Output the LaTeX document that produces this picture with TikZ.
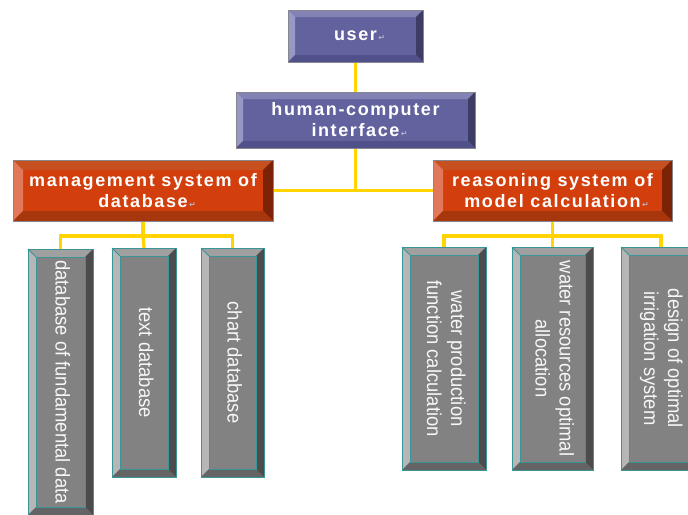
\documentclass[tikz,border=0pt]{standalone}
\usepackage{fontspec}
\usepackage{graphicx}
\setmainfont{Liberation Sans}
\newfontfamily\hfont{Liberation Sans}[LetterSpace=9]
\newfontfamily\vfont{Liberation Sans}[FakeStretch=0.92]
\newfontfamily\symfont{DejaVu Sans}
\usetikzlibrary{calc}
\definecolor{bface}{HTML}{62629E}
\definecolor{btop}{HTML}{8282B4}
\definecolor{bleft}{HTML}{9898C6}
\definecolor{bright}{HTML}{3C3C64}
\definecolor{bbot}{HTML}{50508A}
\definecolor{rface}{HTML}{D23E0C}
\definecolor{rtop}{HTML}{C65020}
\definecolor{rleft}{HTML}{E2785A}
\definecolor{rright}{HTML}{7C2206}
\definecolor{rbot}{HTML}{A8360C}
\definecolor{gface}{HTML}{828282}
\definecolor{gtop}{HTML}{A0A0A0}
\definecolor{gleft}{HTML}{B6B6B6}
\definecolor{gright}{HTML}{4C4C4C}
\definecolor{gbot}{HTML}{646464}
\definecolor{teal}{HTML}{3A9696}
\definecolor{edge}{HTML}{86868E}
\definecolor{linecol}{HTML}{FFD400}
\definecolor{retcol}{HTML}{B4B4CC}
\newcommand\rt{\rlap{\symfont\fontsize{8}{8}\selectfont\color{retcol}\,↵}}
\newcommand\bevelfill[8]{%
  \fill[#3] (#1.north west) -- (#1.north east) -- ($(#1.north east)+(-#2,#2)$) -- ($(#1.north west)+(#2,#2)$) -- cycle;
  \fill[#4] (#1.north west) -- ($(#1.north west)+(#2,#2)$) -- ($(#1.south west)+(#2,-#2)$) -- (#1.south west) -- cycle;
  \fill[#5] (#1.north east) -- ($(#1.north east)+(-#2,#2)$) -- ($(#1.south east)+(-#2,-#2)$) -- (#1.south east) -- cycle;
  \fill[#6] (#1.south west) -- ($(#1.south west)+(#2,-#2)$) -- ($(#1.south east)+(-#2,-#2)$) -- (#1.south east) -- cycle;
  \draw[#8] ($(#1.north west)+(#2,#2)$) rectangle ($(#1.south east)+(-#2,-#2)$);
  \draw[#8] (#1.north west) -- ($(#1.north west)+(#2,#2)$);
  \draw[#7] (#1.north west) rectangle (#1.south east);
}
\tikzset{
  box/.style={inner sep=0pt,outer sep=0pt,text=white,align=center},
  bluebox/.style={box,fill=bface},
  redbox/.style={box,fill=rface},
  graybox/.style={box,fill=gface,text=white!94!gray},
  htext/.style={font=\hfont\bfseries\fontsize{18}{21}\selectfont},
  vtext/.style={font=\vfont\fontsize{20}{24}\selectfont},
  conn/.style={draw=linecol,line width=3.2pt}
}
\newcommand\vlab[1]{\rotatebox{-90}{\begin{tabular}{@{}c@{}}#1\end{tabular}}}
\begin{document}
\begin{tikzpicture}[x=1pt,y=-1pt]
\useasboundingbox (0,0) rectangle (688,514);
\clip (0,0) rectangle (688,514);
\fill[white] (0,0) rectangle (688,514);
% top boxes
\node[bluebox,htext,minimum width=135pt,minimum height=52pt] (user) at (355.5,36) {user\rt};
\node[bluebox,htext,minimum width=239pt,minimum height=56pt] (hci) at (355.5,120) {human-computer\\interface\rt};
\node[redbox,htext,minimum width=260pt,minimum height=61pt] (mgmt) at (143,190.5) {management system of\\database\rt};
\node[redbox,htext,minimum width=239pt,minimum height=61pt] (reas) at (552.5,190.5) {reasoning system of\\model calculation\rt};
% children
\node[graybox,vtext,minimum width=65pt,minimum height=266pt] (c1) at (60.5,382) {\vlab{database of fundamental data}};
\node[graybox,vtext,minimum width=64pt,minimum height=229pt] (c2) at (144,362.5) {\vlab{text database}};
\node[graybox,vtext,minimum width=63pt,minimum height=229pt] (c3) at (232.5,362.5) {\vlab{chart database}};
\node[graybox,vtext,minimum width=84pt,minimum height=223pt] (c4) at (444,358.5) {\vlab{water production\\function calculation}};
\node[graybox,vtext,minimum width=81pt,minimum height=223pt] (c5) at (552.5,358.5) {\vlab{water resources optimal\\allocation}};
\node[graybox,vtext,minimum width=80pt,minimum height=223pt] (c6) at (661,358.5) {\vlab{design of optimal\\irrigation system}};
% connectors
\draw[conn] (user.south) -- (hci.north);
\draw[conn] (hci.south) -- (hci.south |- mgmt.east);
\draw[conn] (mgmt.east) -- (reas.west);
\coordinate (lj) at ($(mgmt.south)+(0,15)$);
\coordinate (rj) at ($(reas.south)+(0,15)$);
\draw[conn] (mgmt.south) -- (lj);
\draw[conn] (c1.north) |- (lj) -| (c3.north);
\draw[conn] (lj) -- (c2.north);
\draw[conn] (reas.south) -- (rj);
\draw[conn] (c4.north) |- (rj) -| (c6.north);
\draw[conn] (rj) -- (c5.north);
% bevels
\bevelfill{user}{7}{btop}{bleft}{bright}{bbot}{edge,line width=0.8pt}{draw=none}
\bevelfill{hci}{7}{btop}{bleft}{bright}{bbot}{edge,line width=0.8pt}{draw=none}
\bevelfill{mgmt}{10}{rtop}{rleft}{rright}{rbot}{edge,line width=0.8pt}{draw=none}
\bevelfill{reas}{10}{rtop}{rleft}{rright}{rbot}{edge,line width=0.8pt}{draw=none}
\foreach \n in {c1,c2,c3,c4,c5,c6}{
  \bevelfill{\n}{8}{gtop}{gleft}{gright}{gbot}{teal,line width=1pt}{teal,line width=0.8pt}
}
\end{tikzpicture}
\end{document}
